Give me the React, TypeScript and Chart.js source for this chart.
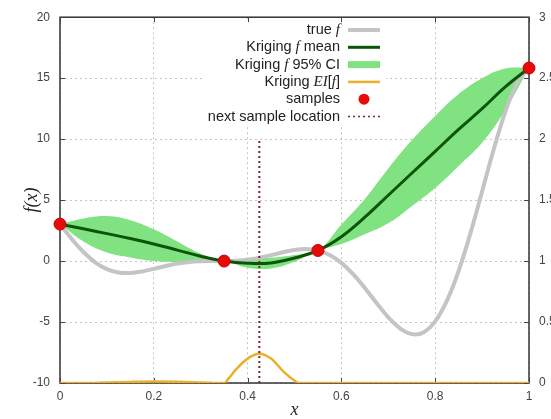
import React, { useEffect, useRef } from 'react';
import { Chart, registerables } from 'chart.js';
Chart.register(...registerables);

// ---- data ----
const trueX = [0, 0.025, 0.05, 0.075, 0.1, 0.125, 0.15, 0.175, 0.2, 0.225, 0.25, 0.275, 0.3, 0.325, 0.35, 0.375, 0.4, 0.425, 0.45, 0.475, 0.5, 0.525, 0.55, 0.575, 0.6, 0.625, 0.65, 0.675, 0.7, 0.725, 0.75, 0.775, 0.8, 0.825, 0.85, 0.875, 0.9, 0.925, 0.95, 0.975, 1];
const trueF = [3.03, 1.81, 0.74, -0.1, -0.66, -0.94, -0.98, -0.85, -0.64, -0.41, -0.21, -0.08, -0.02, 0.0, 0.0, 0.03, 0.11, 0.27, 0.48, 0.72, 0.91, 0.99, 0.87, 0.5, -0.15, -1.07, -2.21, -3.44, -4.61, -5.52, -5.99, -5.85, -4.95, -3.25, -0.8, 2.27, 5.71, 9.19, 12.3, 14.65, 15.83];

const krigX = [0, 0.05, 0.1, 0.15, 0.2, 0.25, 0.3, 0.35, 0.4, 0.45, 0.5, 0.55, 0.6, 0.65, 0.7, 0.75, 0.8, 0.85, 0.9, 0.95, 1];
const krigMean = [3.03, 2.65, 2.25, 1.85, 1.4, 0.9, 0.4, 0.0, -0.18, -0.15, 0.25, 0.87, 2.0, 3.6, 5.4, 7.2, 9.0, 10.8, 12.5, 14.3, 15.83];
const krigUpper = [3.03, 3.5, 3.7, 3.35, 2.6, 1.6, 0.6, 0.0, 0.22, 0.28, 0.5, 0.87, 3.0, 5.1, 7.6, 9.9, 11.9, 13.7, 15.0, 15.8, 15.83];
const krigLower = [3.03, 1.6, 0.7, 0.3, 0.0, -0.1, -0.05, 0.0, -0.55, -0.6, -0.05, 0.87, 1.4, 2.2, 3.1, 4.5, 6.0, 7.8, 9.7, 12.4, 15.83];

const eiX = [0, 0.05, 0.1, 0.15, 0.2, 0.25, 0.3, 0.35, 0.36, 0.375, 0.4, 0.425, 0.45, 0.475, 0.5, 0.51, 0.55, 0.6, 0.7, 0.8, 0.9, 1];
const eiVal = [0, 0, 0.004, 0.009, 0.012, 0.01, 0.005, 0, 0.04, 0.11, 0.2, 0.24, 0.2, 0.1, 0.02, 0, 0, 0, 0, 0, 0, 0];

const sampleX = [0, 0.35, 0.55, 1];
const sampleF = [3.03, 0.0, 0.87, 15.83];

const nextX = 0.425;
const nextRange = [-10, 10];

const xTicks = [0, 0.2, 0.4, 0.6, 0.8, 1];
const yTicks = [-10, -5, 0, 5, 10, 15, 20];
const y2Ticks = [0, 0.5, 1, 1.5, 2, 2.5, 3];

// ---- styles ----
const C_GRAY = 'rgb(196,196,196)';
const C_MEAN = 'rgb(10,85,10)';
const C_BAND = 'rgb(128,226,128)';
const C_EI = 'rgb(236,176,40)';
const C_RED = 'rgb(230,10,10)';
const C_NEXT = 'rgb(125,35,45)';
const TICK_FONT = { family: '"Liberation Sans", Arial, sans-serif', size: 12 };
const TICK_COLOR = '#444';

const pts = (xs: number[], ys: number[]) => xs.map((x, i) => ({ x, y: ys[i] }));

type Part = [string, boolean];
const legendItems: { parts: Part[]; kind: string }[] = [
  { parts: [['true ', false], ['f', true]], kind: 'true' },
  { parts: [['Kriging ', false], ['f', true], [' mean', false]], kind: 'mean' },
  { parts: [['Kriging ', false], ['f', true], [' 95% CI', false]], kind: 'band' },
  { parts: [['Kriging ', false], ['EI', true], ['[', false], ['f', true], [']', false]], kind: 'ei' },
  { parts: [['samples', false]], kind: 'samples' },
  { parts: [['next sample location', false]], kind: 'next' },
];

const NORMAL_FONT = '14.5px "Liberation Sans", Arial, sans-serif';
const ITALIC_FONT = 'italic 15px "Liberation Serif", serif';

const frame = {
  id: 'frame',
  beforeDatasetsDraw(chart: any) {
    const { ctx, chartArea: a, scales } = chart;
    ctx.save();
    // legend box background
    ctx.fillStyle = '#fff';
    ctx.fillRect(202, 20, 184, 106);
    // border box
    ctx.strokeStyle = '#333';
    ctx.lineWidth = 1.5;
    ctx.strokeRect(a.left, a.top, a.right - a.left, a.bottom - a.top);
    // inward ticks
    ctx.lineWidth = 1;
    ctx.strokeStyle = '#444';
    ctx.beginPath();
    for (const v of yTicks) {
      const y = Math.round(scales.y.getPixelForValue(v)) + 0.5;
      ctx.moveTo(a.left, y); ctx.lineTo(a.left + 5, y);
      ctx.moveTo(a.right, y); ctx.lineTo(a.right - 5, y);
    }
    for (const v of xTicks) {
      const x = Math.round(scales.x.getPixelForValue(v)) + 0.5;
      ctx.moveTo(x, a.bottom); ctx.lineTo(x, a.bottom - 5);
      ctx.moveTo(x, a.top); ctx.lineTo(x, a.top + 5);
    }
    ctx.stroke();
    ctx.restore();
  },
  afterDatasetsDraw(chart: any) {
    const { ctx } = chart;
    ctx.save();
    const right = 340;
    const y0 = 30;
    const dy = 17.3;
    ctx.textBaseline = 'middle';
    ctx.fillStyle = '#222';
    legendItems.forEach((it, i) => {
      const y = y0 + i * dy;
      let total = 0;
      const widths = it.parts.map(([t, ital]) => {
        ctx.font = ital ? ITALIC_FONT : NORMAL_FONT;
        const w = ctx.measureText(t).width;
        total += w;
        return w;
      });
      let x = right - total;
      it.parts.forEach(([t, ital], j) => {
        ctx.font = ital ? ITALIC_FONT : NORMAL_FONT;
        ctx.textAlign = 'left';
        ctx.fillText(t, x, y);
        x += widths[j];
      });
      const sx0 = 348, sx1 = 380;
      ctx.setLineDash([]);
      if (it.kind === 'samples') {
        ctx.fillStyle = C_RED;
        ctx.beginPath();
        ctx.arc(364, y, 5.5, 0, Math.PI * 2);
        ctx.fill();
        ctx.fillStyle = '#222';
        return;
      }
      ctx.beginPath();
      ctx.moveTo(sx0, y); ctx.lineTo(sx1, y);
      if (it.kind === 'true') { ctx.strokeStyle = C_GRAY; ctx.lineWidth = 4; }
      if (it.kind === 'mean') { ctx.strokeStyle = C_MEAN; ctx.lineWidth = 3; }
      if (it.kind === 'band') { ctx.strokeStyle = C_BAND; ctx.lineWidth = 7; }
      if (it.kind === 'ei') { ctx.strokeStyle = C_EI; ctx.lineWidth = 2.5; }
      if (it.kind === 'next') { ctx.strokeStyle = C_NEXT; ctx.lineWidth = 1.5; ctx.setLineDash([2, 3]); }
      ctx.stroke();
    });
    ctx.restore();
  },
};

export default function App() {
  const ref = useRef<HTMLCanvasElement | null>(null);
  useEffect(() => {
    if (!ref.current) return;
    const chart = new Chart(ref.current, {
      type: 'line',
      data: {
        datasets: [
          {
            label: 'next sample location',
            data: nextRange.map((y) => ({ x: nextX, y })),
            borderColor: C_NEXT,
            borderWidth: 2,
            borderDash: [2, 3],
            pointRadius: 0,
            yAxisID: 'y',
          },
          {
            label: 'samples',
            data: pts(sampleX, sampleF),
            showLine: false,
            pointRadius: 6,
            pointBackgroundColor: C_RED,
            pointBorderColor: 'rgb(210,0,0)',
            pointBorderWidth: 1,
            clip: false,
            yAxisID: 'y',
          },
          {
            label: 'Kriging EI[f]',
            data: pts(eiX, eiVal),
            borderColor: C_EI,
            borderWidth: 2.5,
            pointRadius: 0,
            cubicInterpolationMode: 'monotone',
            yAxisID: 'y1',
          },
          {
            label: 'Kriging f mean',
            data: pts(krigX, krigMean),
            borderColor: C_MEAN,
            borderWidth: 3,
            pointRadius: 0,
            tension: 0.4,
            yAxisID: 'y',
          },
          {
            label: 'true f',
            data: pts(trueX, trueF),
            borderColor: C_GRAY,
            borderWidth: 4,
            pointRadius: 0,
            tension: 0.4,
            yAxisID: 'y',
          },
          {
            label: 'Kriging f 95% CI',
            data: pts(krigX, krigUpper),
            borderWidth: 0,
            borderColor: 'rgba(0,0,0,0)',
            backgroundColor: C_BAND,
            fill: '+1',
            pointRadius: 0,
            tension: 0.4,
            yAxisID: 'y',
          },
          {
            label: 'lower',
            data: pts(krigX, krigLower),
            borderWidth: 0,
            borderColor: 'rgba(0,0,0,0)',
            pointRadius: 0,
            tension: 0.4,
            fill: false,
            yAxisID: 'y',
          },
        ],
      },
      options: {
        animation: false,
        responsive: false,
        parsing: true,
        layout: { padding: { top: 15, left: 0, right: 0, bottom: 0 } },
        plugins: { legend: { display: false }, tooltip: { enabled: false } },
        scales: {
          x: {
            type: 'linear',
            min: 0,
            max: 1,
            afterBuildTicks: (s: any) => { s.ticks = xTicks.map((v) => ({ value: v })); },
            afterFit: (s: any) => { s.height = 36; },
            ticks: { font: TICK_FONT, color: TICK_COLOR, padding: 6, maxRotation: 0, callback: (v: any) => String(v) },
            grid: { color: '#c4c4c4', lineWidth: 1, drawTicks: false },
            border: { display: false, dash: [2, 3] },
            title: {
              display: true,
              text: 'x',
              color: '#222',
              font: { family: '"Liberation Serif", serif', style: 'italic', size: 18, lineHeight: 1 },
              padding: { top: 0, bottom: 0 },
            },
          },
          y: {
            type: 'linear',
            position: 'left',
            min: -10,
            max: 20,
            afterBuildTicks: (s: any) => { s.ticks = yTicks.map((v) => ({ value: v })); },
            afterFit: (s: any) => { s.width = 60; },
            ticks: { font: TICK_FONT, color: TICK_COLOR, padding: 10, callback: (v: any) => String(v) },
            grid: { color: '#c4c4c4', lineWidth: 1, drawTicks: false },
            border: { display: false, dash: [2, 3] },
            title: {
              display: true,
              text: 'f(x)',
              color: '#222',
              font: { family: '"Liberation Serif", serif', style: 'italic', size: 18, lineHeight: 1 },
              padding: { top: 23, bottom: 0 },
            },
          },
          y1: {
            type: 'linear',
            position: 'right',
            min: 0,
            max: 3,
            afterBuildTicks: (s: any) => { s.ticks = y2Ticks.map((v) => ({ value: v })); },
            afterFit: (s: any) => { s.width = 22; },
            ticks: { font: TICK_FONT, color: TICK_COLOR, padding: 10, callback: (v: any) => String(v) },
            grid: { drawOnChartArea: false, drawTicks: false },
            border: { display: false },
          },
        },
      },
      plugins: [frame],
    } as any);
    return () => chart.destroy();
  }, []);
  return (
    <div style={{ position: 'absolute', left: 0, top: 0, width: 551, height: 419, background: '#fff' }}>
      <canvas ref={ref} width={551} height={419} style={{ display: 'block' }} />
    </div>
  );
}
